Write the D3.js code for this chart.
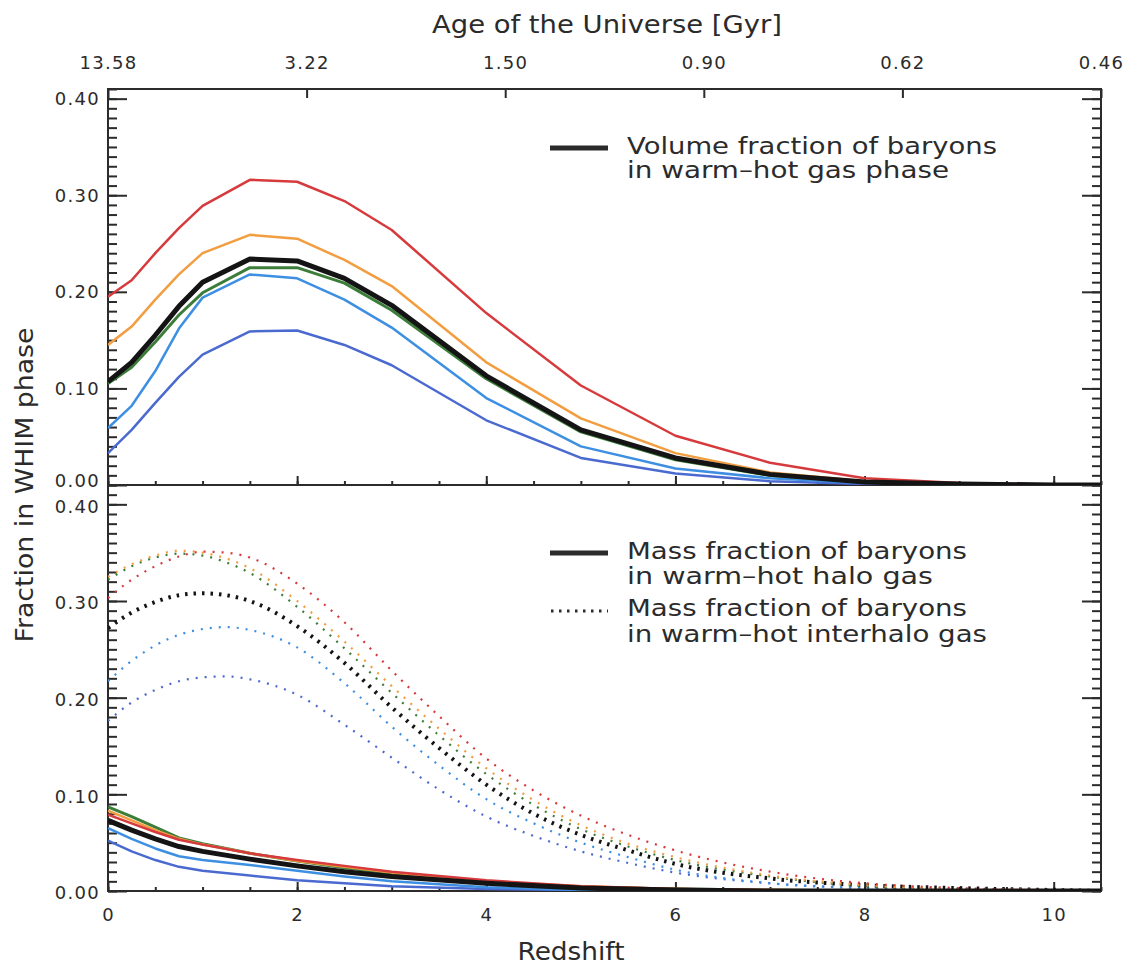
<!DOCTYPE html>
<meta charset="utf-8">
<style>
	body {
		margin: 0;
		background: #fff;
	}
	text {
		font-family: 'DejaVu Sans', sans-serif;
		fill: #2b2b2b;
	}
	.axis text {
		font-size: 18px;
		letter-spacing: 1.3px;
	}
	.axis line, .axis path {
		stroke: #2b2b2b;
		stroke-width: 2;
	}
</style>
<body>
<svg id="svg"></svg>

<script src="https://cdn.jsdelivr.net/npm/d3@7/dist/d3.min.js"></script>
<script>

// DATA
// top panel: volume fraction of baryons in warm-hot gas phase
var zVolume    = [ 0, 0.25, 0.5, 0.75, 1, 1.5, 2, 2.5, 3, 4, 5, 6, 7, 8, 9, 10, 10.5 ]
var volRed     = [ 0.195, 0.212, 0.240, 0.266, 0.289, 0.316, 0.314, 0.294, 0.264, 0.178, 0.103, 0.051, 0.023, 0.007, 0.002, 0.0005, 0 ]
var volOrange  = [ 0.145, 0.164, 0.192, 0.218, 0.240, 0.259, 0.255, 0.233, 0.206, 0.127, 0.069, 0.033, 0.013, 0.004, 0.001, 0, 0 ]
var volGreen   = [ 0.105, 0.122, 0.148, 0.176, 0.199, 0.225, 0.225, 0.209, 0.181, 0.110, 0.055, 0.026, 0.010, 0.003, 0.001, 0, 0 ]
var volLtBlue  = [ 0.059, 0.082, 0.118, 0.162, 0.194, 0.218, 0.214, 0.192, 0.163, 0.090, 0.040, 0.017, 0.007, 0.002, 0.001, 0, 0 ]
var volBlue    = [ 0.033, 0.057, 0.085, 0.112, 0.135, 0.159, 0.160, 0.145, 0.124, 0.067, 0.028, 0.012, 0.004, 0.001, 0, 0, 0 ]
var volBlack   = [ 0.107, 0.127, 0.155, 0.185, 0.210, 0.234, 0.232, 0.214, 0.186, 0.113, 0.057, 0.028, 0.011, 0.003, 0.001, 0, 0 ]

// bottom panel: mass fraction in warm-hot halo gas (solid)
var zHalo      = [ 0, 0.25, 0.5, 0.75, 1, 1.5, 2, 2.5, 3, 4, 5, 6, 7, 8, 10.5 ]
var haloGreen  = [ 0.087, 0.077, 0.066, 0.055, 0.049, 0.039, 0.031, 0.024, 0.018, 0.009, 0.004, 0.002, 0.001, 0, 0 ]
var haloOrange = [ 0.083, 0.073, 0.063, 0.054, 0.048, 0.039, 0.031, 0.025, 0.019, 0.010, 0.005, 0.002, 0.001, 0, 0 ]
var haloRed    = [ 0.079, 0.070, 0.061, 0.053, 0.048, 0.039, 0.032, 0.026, 0.020, 0.011, 0.005, 0.002, 0.001, 0, 0 ]
var haloBlack  = [ 0.073, 0.063, 0.054, 0.046, 0.041, 0.033, 0.026, 0.020, 0.015, 0.008, 0.003, 0.001, 0, 0, 0 ]
var haloLtBlue = [ 0.065, 0.054, 0.044, 0.036, 0.032, 0.027, 0.021, 0.015, 0.010, 0.004, 0.001, 0, 0, 0, 0 ]
var haloBlue   = [ 0.052, 0.041, 0.032, 0.025, 0.021, 0.016, 0.011, 0.008, 0.005, 0.002, 0.001, 0, 0, 0, 0 ]

// bottom panel: mass fraction in warm-hot interhalo gas (dotted)
var zInter      = [ 0, 0.25, 0.5, 0.75, 1, 1.25, 1.5, 2, 2.5, 3, 3.5, 4, 4.5, 5, 5.5, 6, 7, 8, 9, 10, 10.5 ]
var interRed    = [ 0.303, 0.322, 0.336, 0.346, 0.351, 0.350, 0.345, 0.318, 0.278, 0.228, 0.181, 0.137, 0.104, 0.078, 0.058, 0.042, 0.020, 0.008, 0.003, 0.001, 0 ]
var interOrange = [ 0.325, 0.338, 0.347, 0.352, 0.350, 0.344, 0.334, 0.300, 0.258, 0.212, 0.168, 0.127, 0.094, 0.068, 0.049, 0.035, 0.016, 0.006, 0.002, 0.001, 0 ]
var interGreen  = [ 0.322, 0.336, 0.345, 0.349, 0.347, 0.340, 0.329, 0.294, 0.251, 0.205, 0.161, 0.121, 0.089, 0.064, 0.046, 0.032, 0.015, 0.005, 0.002, 0.0005, 0 ]
var interBlack  = [ 0.272, 0.288, 0.299, 0.306, 0.308, 0.306, 0.300, 0.274, 0.236, 0.190, 0.148, 0.110, 0.080, 0.058, 0.042, 0.028, 0.013, 0.006, 0.003, 0.001, 0 ]
var interLtBlue = [ 0.217, 0.238, 0.254, 0.265, 0.271, 0.273, 0.270, 0.252, 0.215, 0.170, 0.130, 0.095, 0.070, 0.050, 0.035, 0.022, 0.008, 0.003, 0.001, 0, 0 ]
var interBlue   = [ 0.176, 0.195, 0.208, 0.217, 0.221, 0.222, 0.219, 0.203, 0.172, 0.138, 0.105, 0.077, 0.057, 0.041, 0.029, 0.019, 0.008, 0.003, 0.001, 0, 0 ]

// axes
var ageLabels = [ '13.58', '3.22', '1.50', '0.90', '0.62', '0.46' ]
var zMajor = [ 0, 2, 4, 6, 8, 10 ]
var yMajor = [ 0, 0.1, 0.2, 0.3, 0.4 ]

// colours
var colRed = '#d63a3c', colOrange = '#f29d3f', colGreen = '#3c7d3a'
var colLtBlue = '#3d8fe2', colBlue = '#4b6ad0', colBlack = '#141414'

// CANVAS
var width = 1131
var height = 966
var left = 108
var right = 1101

var svg = d3.select( '#svg' )
	.attr( 'width', width )
	.attr( 'height', height )

var x = d3.scaleLinear().domain([ 0, 10.5 ]).range([ left, right ])
var yTop = d3.scaleLinear().domain([ 0, 0.41 ]).range([ 485, 89 ])
var yBot = d3.scaleLinear().domain([ 0, 0.42 ]).range([ 891, 485 ])

// PANEL AXES
function panelAxes( y, showX ){
	let y0 = y.range()[ 0 ], y1 = y.range()[ 1 ]
	let yMinor = d3.range( 0, Math.round( y.domain()[ 1 ] * 100 ) + 1 ).map( i => i / 100 )
	let zMinor = d3.range( 0, 22 ).map( i => i / 2 )

	// left
	svg.append( 'g' ).attr( 'class', 'axis' )
		.attr( 'transform', 'translate(' + left + ',0)' )
		.call( d3.axisLeft( y ).tickValues( yMinor ).tickFormat( '' ).tickSize( -9 ))
		.call( g => g.select( '.domain' ).remove() )
	let yAx = svg.append( 'g' ).attr( 'class', 'axis' )
		.attr( 'transform', 'translate(' + left + ',0)' )
		.call( d3.axisLeft( y ).tickValues( yMajor ).tickFormat( d3.format( '.2f' ))
			.tickSizeInner( -19 ).tickSizeOuter( 0 ).tickPadding( 8 ))
		.call( g => g.select( '.domain' ).remove() )
	// labels sit a little off the ticks near the shared edge, as in the original
	yAx.selectAll( 'text' )
		.attr( 'y', d => showX ? 2 : ( d === 0 ? -4 : 0 ))

	// right
	svg.append( 'g' ).attr( 'class', 'axis' )
		.attr( 'transform', 'translate(' + right + ',0)' )
		.call( d3.axisRight( y ).tickValues( yMinor ).tickFormat( '' ).tickSize( -9 ))
		.call( g => g.select( '.domain' ).remove() )
	svg.append( 'g' ).attr( 'class', 'axis' )
		.attr( 'transform', 'translate(' + right + ',0)' )
		.call( d3.axisRight( y ).tickValues( yMajor ).tickFormat( '' ).tickSize( -19 ))
		.call( g => g.select( '.domain' ).remove() )

	// bottom
	svg.append( 'g' ).attr( 'class', 'axis' )
		.attr( 'transform', 'translate(0,' + y0 + ')' )
		.call( d3.axisBottom( x ).tickValues( zMinor ).tickFormat( '' ).tickSize( -4 ))
		.call( g => g.select( '.domain' ).remove() )
	svg.append( 'g' ).attr( 'class', 'axis' )
		.attr( 'transform', 'translate(0,' + y0 + ')' )
		.call( d3.axisBottom( x ).tickValues( zMajor )
			.tickFormat( showX ? d3.format( 'd' ) : '' )
			.tickSizeInner( -9 ).tickSizeOuter( 0 ).tickPadding( 17 ))
		.call( g => g.select( '.domain' ).remove() )

	// frame
	svg.append( 'rect' )
		.attr( 'x', left ).attr( 'y', y1 )
		.attr( 'width', right - left ).attr( 'height', y0 - y1 )
		.attr( 'fill', 'none' )
		.attr( 'stroke', '#2b2b2b' )
		.attr( 'stroke-width', 2 )
}

panelAxes( yTop, false )
panelAxes( yBot, true )

// top axis: age of the universe
var ageScale = d3.scalePoint().domain( ageLabels ).range([ left, right ])
svg.append( 'g' ).attr( 'class', 'axis' )
	.attr( 'transform', 'translate(0,89)' )
	.call( d3.axisTop( ageScale ).tickSizeInner( -9 ).tickSizeOuter( 0 ).tickPadding( 20 ))
	.call( g => g.select( '.domain' ).remove() )

// CLIPS
var defs = svg.append( 'defs' )
defs.append( 'clipPath' ).attr( 'id', 'clipTop' )
	.append( 'rect' ).attr( 'x', left ).attr( 'y', 89 ).attr( 'width', right - left ).attr( 'height', 396 )
defs.append( 'clipPath' ).attr( 'id', 'clipBot' )
	.append( 'rect' ).attr( 'x', left ).attr( 'y', 485 ).attr( 'width', right - left ).attr( 'height', 406 )

// LINES
function drawSeries( clip, y, zs, series, curve ){
	let line = d3.line()
		.x( ( d, i )=> x( zs[ i ] ))
		.y( d => y( d ))
		.curve( curve )
	svg.append( 'g' ).attr( 'clip-path', 'url(#' + clip + ')' )
		.selectAll( 'path' )
		.data( series )
		.enter()
		.append( 'path' )
			.attr( 'd', s => line( s.values ))
			.attr( 'fill', 'none' )
			.attr( 'stroke', s => s.color )
			.attr( 'stroke-width', s => s.width )
			.attr( 'stroke-dasharray', s => s.dash || null )
			.attr( 'stroke-linejoin', 'round' )
}

drawSeries( 'clipTop', yTop, zVolume, [
	{ values: volBlue, color: colBlue, width: 2.5 },
	{ values: volLtBlue, color: colLtBlue, width: 2.5 },
	{ values: volGreen, color: colGreen, width: 3 },
	{ values: volOrange, color: colOrange, width: 2.5 },
	{ values: volRed, color: colRed, width: 2.5 },
	{ values: volBlack, color: colBlack, width: 5 }
], d3.curveLinear )

drawSeries( 'clipBot', yBot, zInter, [
	{ values: interBlue, color: colBlue, width: 2.2, dash: '2,7' },
	{ values: interLtBlue, color: colLtBlue, width: 2.2, dash: '2,7' },
	{ values: interBlack, color: colBlack, width: 4, dash: '2.5,6' },
	{ values: interGreen, color: colGreen, width: 2.2, dash: '2,7' },
	{ values: interOrange, color: colOrange, width: 2.2, dash: '2,7' },
	{ values: interRed, color: colRed, width: 2.2, dash: '2,7' }
], d3.curveMonotoneX )

drawSeries( 'clipBot', yBot, zHalo, [
	{ values: haloBlue, color: colBlue, width: 2.5 },
	{ values: haloLtBlue, color: colLtBlue, width: 2.5 },
	{ values: haloGreen, color: colGreen, width: 3 },
	{ values: haloOrange, color: colOrange, width: 2.5 },
	{ values: haloRed, color: colRed, width: 2.5 },
	{ values: haloBlack, color: colBlack, width: 5 }
], d3.curveLinear )

// LEGENDS
function legendText( tx, ty, str, len ){
	svg.append( 'text' )
		.attr( 'x', tx ).attr( 'y', ty )
		.attr( 'textLength', len )
		.attr( 'lengthAdjust', 'spacingAndGlyphs' )
		.style( 'font-size', '23px' )
		.text( str )
}

svg.append( 'line' )
	.attr( 'x1', 550 ).attr( 'x2', 608 ).attr( 'y1', 148 ).attr( 'y2', 148 )
	.attr( 'stroke', '#2b2b2b' ).attr( 'stroke-width', 5 )
legendText( 627, 154, 'Volume fraction of baryons', 370 )
legendText( 627, 178, 'in warm\u2013hot gas phase', 322 )

svg.append( 'line' )
	.attr( 'x1', 550 ).attr( 'x2', 608 ).attr( 'y1', 553 ).attr( 'y2', 553 )
	.attr( 'stroke', '#2b2b2b' ).attr( 'stroke-width', 5 )
legendText( 627, 559, 'Mass fraction of baryons', 340 )
legendText( 627, 584, 'in warm\u2013hot halo gas', 306 )

svg.append( 'line' )
	.attr( 'x1', 551 ).attr( 'x2', 608 ).attr( 'y1', 611 ).attr( 'y2', 611 )
	.attr( 'stroke', '#2b2b2b' ).attr( 'stroke-width', 3 )
	.attr( 'stroke-dasharray', '2.5,5.5' )
legendText( 627, 616, 'Mass fraction of baryons', 340 )
legendText( 627, 642, 'in warm\u2013hot interhalo gas', 360 )

// AXIS TITLES
svg.append( 'text' )
	.attr( 'x', 607 ).attr( 'y', 33 )
	.attr( 'text-anchor', 'middle' )
	.attr( 'textLength', 350 )
	.attr( 'lengthAdjust', 'spacingAndGlyphs' )
	.style( 'font-size', '24px' )
	.text( 'Age of the Universe [Gyr]' )

svg.append( 'text' )
	.attr( 'x', 571 ).attr( 'y', 960 )
	.attr( 'text-anchor', 'middle' )
	.attr( 'textLength', 107 )
	.attr( 'lengthAdjust', 'spacingAndGlyphs' )
	.style( 'font-size', '24px' )
	.text( 'Redshift' )

svg.append( 'text' )
	.attr( 'transform', 'translate(33,485) rotate(-90)' )
	.attr( 'text-anchor', 'middle' )
	.attr( 'textLength', 315 )
	.attr( 'lengthAdjust', 'spacingAndGlyphs' )
	.style( 'font-size', '25px' )
	.text( 'Fraction in WHIM phase' )

</script>
</body>
